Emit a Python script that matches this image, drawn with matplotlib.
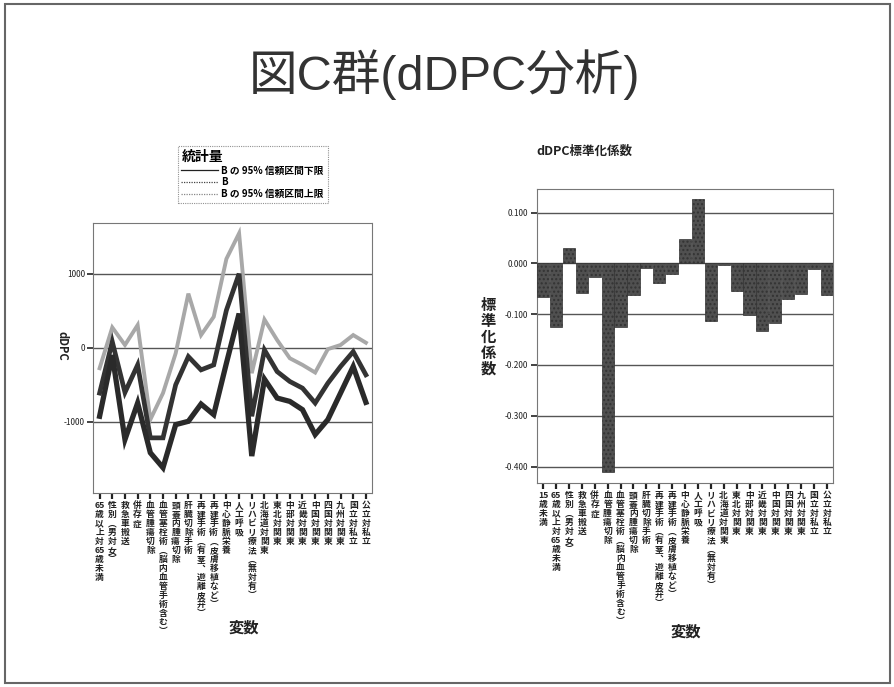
import re
import numpy as np
import matplotlib
matplotlib.use("Agg")
import matplotlib.pyplot as plt
from matplotlib.lines import Line2D
from matplotlib.patches import Rectangle

plt.rcParams['font.family'] = ['Noto Sans CJK JP', 'DejaVu Sans']

# left chart: dDPC with 95% CI
left_vars = ["65歳以上対65歳未満", "性別︵男対女︶", "救急車搬送", "併存症", "血管腫瘍切除",
             "血管塞栓術︵脳内血管手術含む︶", "頭蓋内腫瘍切除", "肝臓切除手術",
             "再建手術︵有茎︑遊離皮弁︶", "再建手術︵皮膚移植など︶", "中心静脈栄養", "人工呼吸",
             "リハビリ療法︵無対有︶", "北海道対関東", "東北対関東", "中部対関東", "近畿対関東",
             "中国対関東", "四国対関東", "九州対関東", "国立対私立", "公立対私立"]
b_lower = [-927, -100, -1241, -748, -1420, -1622, -1040, -995, -762, -905, -210, 461,
           -1465, -426, -681, -726, -838, -1174, -972, -614, -255, -739]
b_value = [-614, 80, -605, -233, -1219, -1219, -502, -121, -300, -233, 506, 1000,
           -927, -31, -323, -457, -547, -748, -480, -255, -54, -367]
b_upper = [-278, 273, 36, 305, -972, -614, -76, 730, 170, 417, 1200, 1545,
           -345, 380, 103, -143, -233, -336, -20, 36, 170, 67]

# right chart: standardized coefficients
right_vars = ["15歳未満"] + left_vars
std_coef = [-0.066, -0.126, 0.031, -0.058, -0.026, -0.410, -0.126, -0.062, -0.010, -0.039,
            -0.021, 0.047, 0.126, -0.113, -0.003, -0.054, -0.102, -0.133, -0.117, -0.071,
            -0.060, -0.012, -0.062]


def vertical(s):
    # stack characters top to bottom, keep digit runs on one line
    return "\n".join(re.findall(r"\d+|.", s))


def style_axes(ax):
    for sp in ax.spines.values():
        sp.set_linestyle((0, (1, 1)))
        sp.set_color('#777777')
        sp.set_linewidth(0.8)
    ax.tick_params(axis='x', length=4, width=1.6, color='#222222', pad=2)
    ax.tick_params(axis='y', length=4, width=1.2, color='#222222', pad=2,
                   labelsize=6, labelcolor='#222222')
    ax.set_axisbelow(True)


fig = plt.figure(figsize=(8.95, 6.87), dpi=100)
fig.patches.append(Rectangle((0.006, 0.006), 0.988, 0.988, transform=fig.transFigure,
                             fill=False, edgecolor='#666666', linewidth=1.5))

fig.text(0.497, 0.892, "図C群(dDPC分析)", ha='center', va='center',
         fontsize=35, color='#333333', family=['Liberation Sans', 'Noto Sans CJK JP'])

# ---- left ----
ax1 = fig.add_axes([0.1042, 0.2824, 0.3117, 0.3926])
x = np.arange(len(left_vars))
ax1.plot(x, b_upper, color='#a8a8a8', lw=2.8, solid_joinstyle='miter')
ax1.plot(x, b_value, color='#333333', lw=3.4, solid_joinstyle='miter')
ax1.plot(x, b_lower, color='#2a2a2a', lw=3.8, solid_joinstyle='miter')
ax1.set_xlim(-0.5, len(left_vars) - 0.5)
ax1.set_ylim(-1964, 1681)
ax1.set_yticks([-1000, 0, 1000])
ax1.set_yticklabels(["-1000", "0", "1000"])
ax1.set_xticks(x)
ax1.set_xticklabels([vertical(v) for v in left_vars], fontsize=6.3, fontweight='bold',
                    linespacing=1.0, va='top', ha='center', color='#222222')
ax1.grid(axis='y', color='#555555', lw=1.0)
style_axes(ax1)
fig.text(0.069, 0.497, "dDPC", rotation=270, ha='center', va='center',
         fontsize=8, fontweight='bold', color='#222222')
fig.text(0.272, 0.086, "変数", ha='center', va='center', fontsize=11,
         fontweight='bold', color='#222222')

handles = [Line2D([], [], color='#222222', lw=0.9),
           Line2D([], [], color='#444444', lw=0.9, ls=(0, (1, 1))),
           Line2D([], [], color='#888888', lw=0.9, ls=(0, (1, 1)))]
leg = fig.legend(handles, ["B の 95% 信頼区間下限", "B", "B の 95% 信頼区間上限"],
                 loc='upper left', bbox_to_anchor=(0.193, 0.795), title="統計量",
                 alignment='left', fontsize=7, handlelength=3.8, handletextpad=0.3,
                 labelspacing=0.2, borderpad=0.4, fancybox=False,
                 title_fontproperties={'weight': 'bold', 'size': 10})
for t in leg.get_texts():
    t.set_fontweight('bold')
leg.get_frame().set_linestyle((0, (1, 1)))
leg.get_frame().set_edgecolor('#777777')
leg.get_frame().set_linewidth(0.8)

# ---- right ----
ax2 = fig.add_axes([0.5997, 0.2969, 0.3314, 0.4275])
x2 = np.arange(len(right_vars))
ax2.bar(x2, std_coef, width=0.94, color='#505050', edgecolor='#333333', lw=0.5, zorder=3,
        hatch='....')
ax2.set_xlim(-0.5, len(right_vars) - 0.5)
ax2.set_ylim(-0.4325, 0.1457)
ax2.set_yticks([-0.4, -0.3, -0.2, -0.1, 0.0, 0.1])
ax2.set_yticklabels(["-0.400", "-0.300", "-0.200", "-0.100", "0.000", "0.100"])
ax2.set_xticks(x2)
ax2.set_xticklabels([vertical(v) for v in right_vars], fontsize=6.3, fontweight='bold',
                    linespacing=1.0, va='top', ha='center', color='#222222')
ax2.grid(axis='y', color='#555555', lw=1.0)
style_axes(ax2)
fig.text(0.653, 0.779, "dDPC標準化係数", ha='center', va='center', fontsize=9,
         fontweight='bold', color='#222222')
fig.text(0.546, 0.51, vertical("標準化係数"), ha='center', va='center', fontsize=11,
         fontweight='bold', linespacing=1.0, color='#222222')
fig.text(0.766, 0.08, "変数", ha='center', va='center', fontsize=11,
         fontweight='bold', color='#222222')

fig.savefig("out.png", dpi=100)
